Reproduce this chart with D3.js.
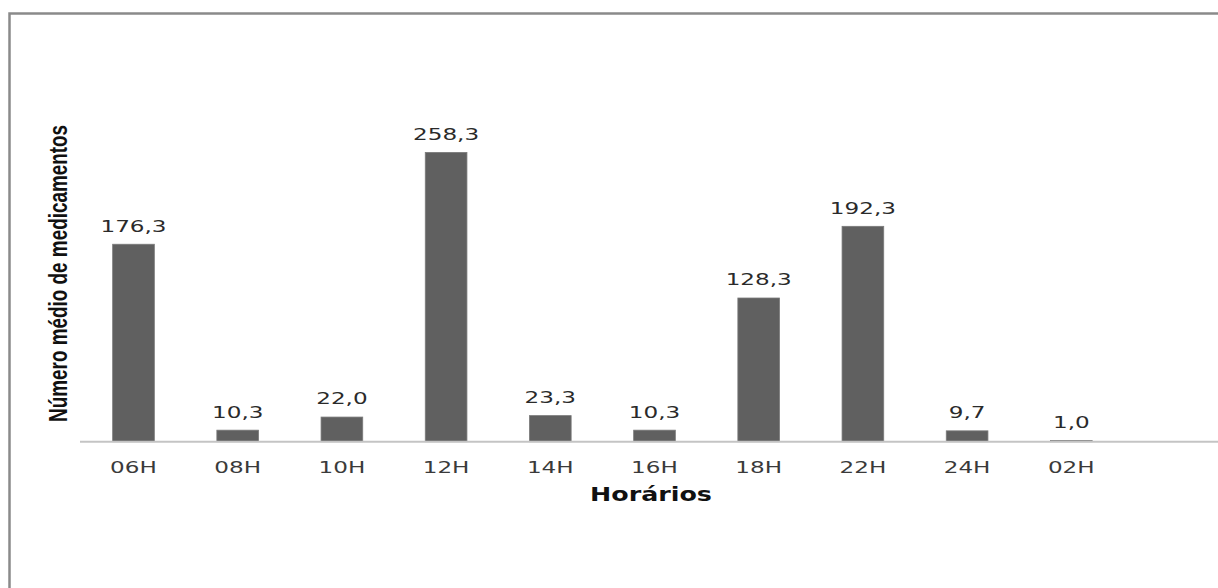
<!DOCTYPE html>
<html>
<head>
<meta charset="utf-8">
<script src="https://cdn.jsdelivr.net/npm/d3@7"></script>
<style>
  html, body { margin: 0; padding: 0; background: #fff; }
  svg { display: block; }
</style>
</head>
<body>
<svg id="chart" width="1218" height="588"></svg>
<script>
// Average number of medications per administration time
const categories = ["06H", "08H", "10H", "12H", "14H", "16H", "18H", "22H", "24H", "02H"];
const values = [176.3, 10.3, 22.0, 258.3, 23.3, 10.3, 128.3, 192.3, 9.7, 1.0];
const valueLabels = ["176,3", "10,3", "22,0", "258,3", "23,3", "10,3", "128,3", "192,3", "9,7", "1,0"];
const yDomain = [0, 300];

const W = 1218, H = 588;
const svg = d3.select("#chart");

// outer chart frame (right and bottom edges fall outside the view)
svg.append("rect")
  .attr("x", 9.5).attr("y", 13.5)
  .attr("width", W + 20).attr("height", H + 20)
  .attr("fill", "none")
  .attr("stroke", "#8a8a8a")
  .attr("stroke-width", 2.5);

const baseY = 441.7;
const x = d3.scaleBand()
  .domain(categories)
  .range([81.4, 1123.4])
  .paddingInner(0.6)
  .paddingOuter(0.3);

const y = d3.scaleLinear()
  .domain(yDomain)
  .range([baseY, baseY - 336]);

const STRETCH = 1.4;

// bars
svg.append("g").selectAll("rect")
  .data(values)
  .join("rect")
  .attr("x", (d, i) => x(categories[i]))
  .attr("y", d => y(d))
  .attr("width", x.bandwidth())
  .attr("height", d => y(0) - y(d))
  .attr("fill", "#606060")
  .attr("stroke", "#7a7a7a")
  .attr("stroke-width", 0.8);

// category axis
const axisG = svg.append("g")
  .attr("transform", `translate(0,${baseY})`)
  .call(d3.axisBottom(x).tickSize(0).tickPadding(31));
axisG.select(".domain").remove();
axisG.selectAll("text")
  .attr("font-family", "'DejaVu Sans', Verdana, sans-serif")
  .attr("font-size", 16.5)
  .attr("fill", "#3a3a3a")
  .attr("dy", 0)
  .attr("text-anchor", "middle");
// horizontally widened tick labels, keeping each centred on its band
axisG.selectAll(".tick").each(function (d) {
  const cx = x(d) + x.bandwidth() / 2;
  d3.select(this).attr("transform", `translate(${cx},0) scale(${STRETCH},1)`);
});

svg.append("line")
  .attr("x1", 80).attr("x2", W)
  .attr("y1", baseY).attr("y2", baseY)
  .attr("stroke", "#c4c4c4")
  .attr("stroke-width", 2);

// value labels
svg.append("g").selectAll("text")
  .data(values)
  .join("text")
  .attr("transform", (d, i) => `translate(${x(categories[i]) + x.bandwidth() / 2},${y(d) - 12.6}) scale(${STRETCH},1)`)
  .attr("text-anchor", "middle")
  .attr("font-family", "'DejaVu Sans', Verdana, sans-serif")
  .attr("font-size", 16.5)
  .attr("fill", "#2a2a2a")
  .text((d, i) => valueLabels[i]);

// axis titles
svg.append("text")
  .attr("transform", `translate(651,501) scale(1.3,1)`)
  .attr("text-anchor", "middle")
  .attr("font-family", "'DejaVu Sans', Verdana, sans-serif")
  .attr("font-weight", "bold")
  .attr("font-size", 19.5)
  .attr("fill", "#111")
  .text("Horários");

svg.append("text")
  .attr("transform", "translate(67,273.4) rotate(-90)")
  .attr("text-anchor", "middle")
  .attr("font-family", "'Liberation Sans Narrow', 'Liberation Sans', Arial, sans-serif")
  .attr("font-weight", "bold")
  .attr("font-size", 26.5)
  .attr("textLength", 297)
  .attr("lengthAdjust", "spacingAndGlyphs")
  .attr("fill", "#111")
  .text("Número médio de medicamentos");
</script>
</body>
</html>
